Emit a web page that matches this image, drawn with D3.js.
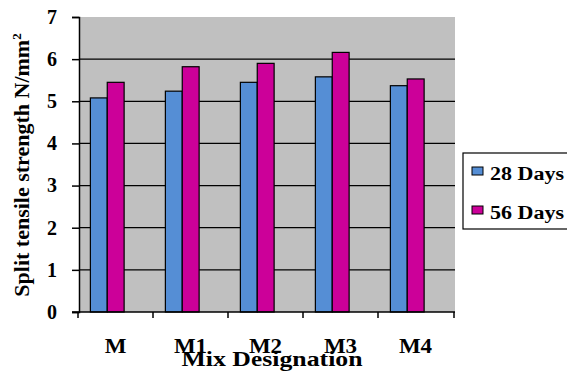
<!DOCTYPE html>
<html><head><meta charset="utf-8">
<script src="https://cdn.jsdelivr.net/npm/d3@7"></script>
<style>body{margin:0;background:#fff}svg{display:block}
svg text{font-family:"Liberation Serif","Tinos","DejaVu Serif",serif;font-weight:bold;fill:#000}</style>
</head><body>
<svg id="c" width="567" height="372"></svg>
<script>
const categories = ["M","M1","M2","M3","M4"];
const days28 = [5.08, 5.24, 5.45, 5.58, 5.37];
const days56 = [5.45, 5.82, 5.90, 6.16, 5.53];
const seriesNames = ["28 Days","56 Days"];
const colors = ["#558ED5","#CC0099"];
const yTicks = [0,1,2,3,4,5,6,7];

const svg = d3.select("#c");
const L=79, R=455, T=17, B=312;

const x = d3.scaleBand().domain(categories).range([L-1,R-2]).padding(0);
const y = d3.scaleLinear().domain([0,7]).range([B,T]);

svg.append("rect").attr("x",L).attr("y",T).attr("width",R-L).attr("height",B-T).attr("fill","#C0C0C0");

// gridlines
svg.append("g").selectAll("line").data(yTicks.filter(d=>d>0&&d<7)).join("line")
  .attr("x1",L).attr("x2",R).attr("y1",d=>y(d)).attr("y2",d=>y(d))
  .attr("stroke","#000").attr("stroke-width",1.3);

// bars
const bw = x.bandwidth();
const series = [days28, days56];
series.forEach((vals,si)=>{
  svg.append("g").selectAll("rect").data(vals).join("rect")
    .attr("x",(d,i)=>x(categories[i]) + bw*0.165 + si*bw*0.225)
    .attr("width",bw*0.225)
    .attr("y",d=>y(d)).attr("height",d=>B-y(d))
    .attr("fill",colors[si]).attr("stroke","#000").attr("stroke-width",1.2);
});

// y axis
const ya = svg.append("g").attr("transform",`translate(${L},0)`)
  .call(d3.axisLeft(y).tickValues(yTicks).tickSize(7).tickPadding(15).tickFormat(d3.format("d")));
ya.attr("font-family",null).attr("font-size",null);
ya.select(".domain").attr("stroke","#000").attr("stroke-width",1.5);
ya.selectAll(".tick line").attr("stroke","#000").attr("stroke-width",1.5);
ya.selectAll("text").style("font-size","20px");

// x axis
const xa = svg.append("g").attr("transform",`translate(0,${B})`)
  .call(d3.axisBottom(x).tickSize(0).tickPadding(27));
xa.attr("font-family",null).attr("font-size",null);
xa.select(".domain").remove();
xa.selectAll("text").style("font-size","20px");
xa.selectAll(".tick text").each(function(){
  const t=d3.select(this); const w=this.getComputedTextLength();
  t.attr("textLength",w*1.15).attr("lengthAdjust","spacingAndGlyphs");
});
svg.append("line").attr("x1",L-7).attr("x2",R).attr("y1",B).attr("y2",B).attr("stroke","#000").attr("stroke-width",1.5);
svg.append("g").selectAll("line").data(categories.concat(["end"])).join("line")
  .attr("x1",(d,i)=>i<categories.length? x(d): x.range()[1]+1)
  .attr("x2",(d,i)=>i<categories.length? x(d): x.range()[1]+1)
  .attr("y1",B).attr("y2",B+6).attr("stroke","#000").attr("stroke-width",1.5);

// axis titles
svg.append("text").attr("x",272).attr("y",366).attr("text-anchor","middle")
  .style("font-size","21px").attr("textLength",181).attr("lengthAdjust","spacingAndGlyphs").text("Mix Designation");
const yt = svg.append("text").attr("transform","translate(29,165) rotate(-90)").attr("text-anchor","middle")
  .style("font-size","22px");
yt.append("tspan").text("Split tensile strength N/mm");
yt.append("tspan").attr("dy",-8).style("font-size","13px").text("2");

// legend
const lg = svg.append("g");
lg.append("rect").attr("x",463).attr("y",153).attr("width",110).attr("height",76)
  .attr("fill","#fff").attr("stroke","#000").attr("stroke-width",1.2);
seriesNames.forEach((n,i)=>{
  const yy = 167 + i*39;
  lg.append("rect").attr("x",472).attr("y",yy).attr("width",11).attr("height",8)
    .attr("fill",colors[i]).attr("stroke","#000").attr("stroke-width",1);
  lg.append("text").attr("x",490).attr("y",yy+13).style("font-size","18px")
    .attr("textLength",74).attr("lengthAdjust","spacingAndGlyphs").text(n);
});
</script>
</body></html>
